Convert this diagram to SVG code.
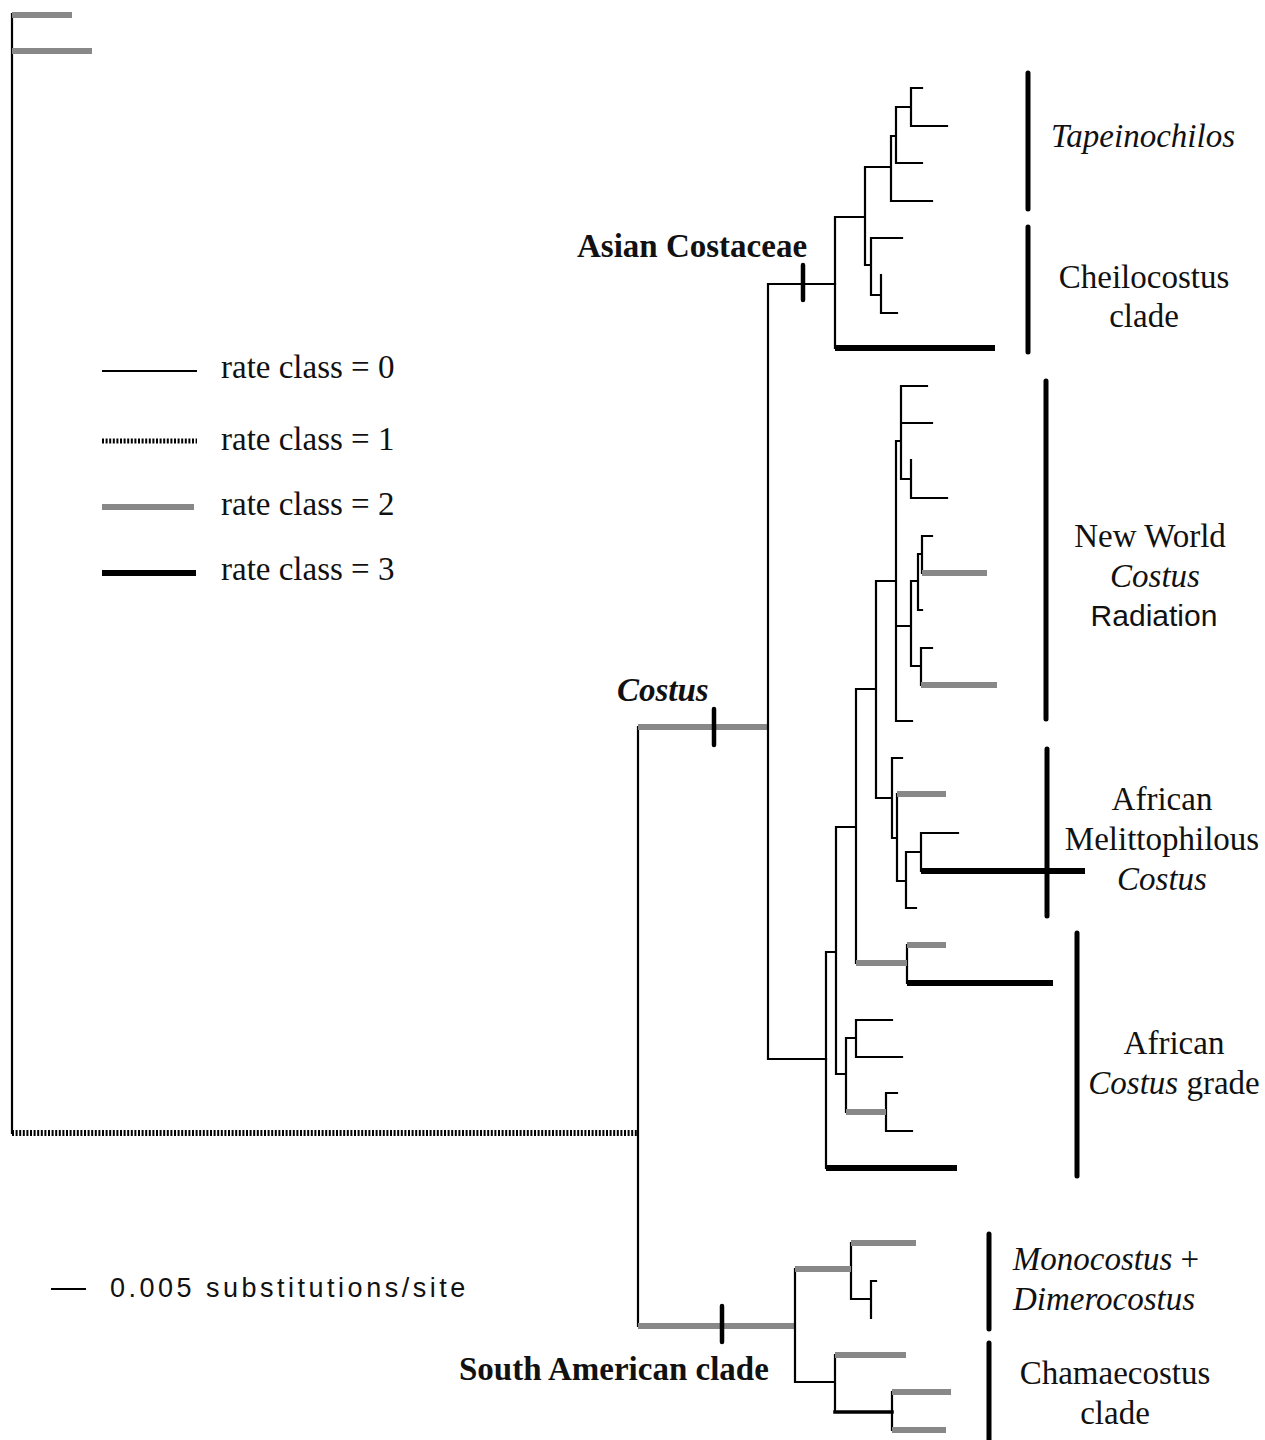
<svg xmlns="http://www.w3.org/2000/svg" width="1265" height="1440" viewBox="0 0 1265 1440">
<style>
.r0{stroke:#000;stroke-width:2.2;fill:none;stroke-linecap:square}
.r1{stroke:#000;stroke-width:6;fill:none;stroke-dasharray:2 1.6}
.r2{stroke:#888;stroke-width:6;fill:none}
.r3{stroke:#000;stroke-width:6;fill:none}
.tick{stroke:#000;stroke-width:4.5;stroke-linecap:round;fill:none}
.br{stroke:#000;stroke-width:5;stroke-linecap:round;fill:none}
.t{font-family:"Liberation Serif","Times New Roman",serif;font-size:33px;fill:#111}
.m{text-anchor:middle}
.b{font-weight:bold}
.i{font-style:italic}
.s{font-family:"Liberation Sans",Arial,sans-serif}
</style>
<rect width="1265" height="1440" fill="#fff"/>
<g id="connectors">
<!-- outgroup -->
<path class="r0" d="M12 14V1133"/>
<path class="r2" d="M12 15H72M12 51H92"/>
<path class="r1" d="M12 1133H638"/>
<!-- root -->
<path class="r0" d="M638 727V1326"/>
<path class="r2" d="M638 727H768M638 1326H795"/>
<!-- Costus node -->
<path class="r0" d="M768 284V1059M768 284H835M768 1059H826"/>
<!-- Asian Costaceae -->
<path class="r0" d="M835 217V348M835 217H865M865 167V265M865 167H891M865 265H871M891 136V201M891 201H932M891 136H896M896 107V163M896 163H922M896 107H911M911 88V126M911 88H922M911 126H947M871 238V295M871 238H902M871 295H881M881 275V313M881 313H897"/>
<path class="r3" d="M835 348H995"/>
<!-- African / New World -->
<path class="r0" d="M826 952V1168M826 952H836M836 827V1074M836 827H856M836 1074H846M856 689V963M856 689H876M907 945V983M876 581V798M876 581H896M876 798H892M896 441V721M896 441H901M896 721H912M896 626H911M901 386V479M901 386H927M901 423H932M901 479H911M911 460V498M911 498H947M911 581V666M911 581H918M911 666H921M918 554V610M918 554H922M918 610H922M922 536V573M922 536H932M921 648V685M921 648H932M892 758V838M892 758H902M892 838H897M897 794V881M897 881H906M906 852V908M906 852H921M906 908H916M921 833V871M921 833H958M846 1038V1112M846 1038H856M856 1020V1057M856 1020H892M856 1057H902M886 1093V1131M886 1093H897M886 1131H912"/>
<path class="r2" d="M856 963H907M907 945H946M922 573H987M921 685H997M897 794H946M846 1112H886"/>
<path class="r3" d="M826 1168H957M907 983H1053M921 871H1085"/>
<!-- South American -->
<path class="r0" d="M795 1269V1382M795 1382H835M851 1243V1299M851 1299H871M871 1281V1318M871 1281H876M835 1355V1412M892 1392V1430"/>
<path class="r2" d="M795 1269H851M851 1243H916M835 1355H906M892 1392H951M892 1430H946"/>
<path class="r0" style="stroke-width:3.5" d="M835 1412H892"/>
<!-- ticks -->
<path class="tick" d="M714 709V745M722 1306V1342M803 265V300"/>
</g>
<g id="node-asian-costaceae"><text class="t b" x="577" y="257">Asian Costaceae</text></g>
<g id="node-costus"><text class="t b i" x="617" y="701">Costus</text></g>
<g id="node-south-american"><text class="t b" x="459" y="1380">South American clade</text></g>
<g id="node-tapeinochilos">
<path class="br" d="M1028 73V209"/>
<text class="t i m" x="1143" y="147">Tapeinochilos</text>
</g>
<g id="node-cheilocostus">
<path class="br" d="M1028 227V352"/>
<text class="t m" x="1144" y="288">Cheilocostus</text>
<text class="t m" x="1144" y="327">clade</text>
</g>
<g id="node-new-world">
<path class="br" d="M1046 381V719"/>
<text class="t m" x="1150" y="547">New World</text>
<text class="t i m" x="1155" y="587">Costus</text>
<text class="t s m" x="1154" y="626" style="font-size:30px">Radiation</text>
</g>
<g id="node-african-melittophilous">
<path class="br" d="M1047 749V916"/>
<text class="t m" x="1162" y="810">African</text>
<text class="t m" x="1162" y="850">Melittophilous</text>
<text class="t i m" x="1162" y="890">Costus</text>
</g>
<g id="node-african-grade">
<path class="br" d="M1077 933V1176"/>
<text class="t m" x="1174" y="1054">African</text>
<text class="t m" x="1174" y="1094"><tspan class="i">Costus</tspan> grade</text>
</g>
<g id="node-monocostus">
<path class="br" d="M989 1234V1329"/>
<text class="t m" x="1106" y="1270"><tspan class="i">Monocostus</tspan> +</text>
<text class="t i m" x="1104" y="1310">Dimerocostus</text>
</g>
<g id="node-chamaecostus">
<path class="br" d="M989 1343V1440"/>
<text class="t m" x="1115" y="1384">Chamaecostus</text>
<text class="t m" x="1115" y="1424">clade</text>
</g>
<g id="legend">
<path class="r0" style="stroke-linecap:butt" d="M102 371H197"/>
<path class="r1" style="stroke-width:5" d="M102 441H197"/>
<path class="r2" d="M102 507H194"/>
<path class="r3" d="M102 573H196"/>
<text class="t" x="221" y="378">rate class = 0</text>
<text class="t" x="221" y="450">rate class = 1</text>
<text class="t" x="221" y="515">rate class = 2</text>
<text class="t" x="221" y="580">rate class = 3</text>
</g>
<g id="scale-bar">
<path class="r0" style="stroke-linecap:butt" d="M51 1289H86"/>
<text x="110" y="1297" style="font-family:'Liberation Sans',Arial,sans-serif;font-size:27px;letter-spacing:3.5px;fill:#111">0.005 substitutions/site</text>
</g>
</svg>
